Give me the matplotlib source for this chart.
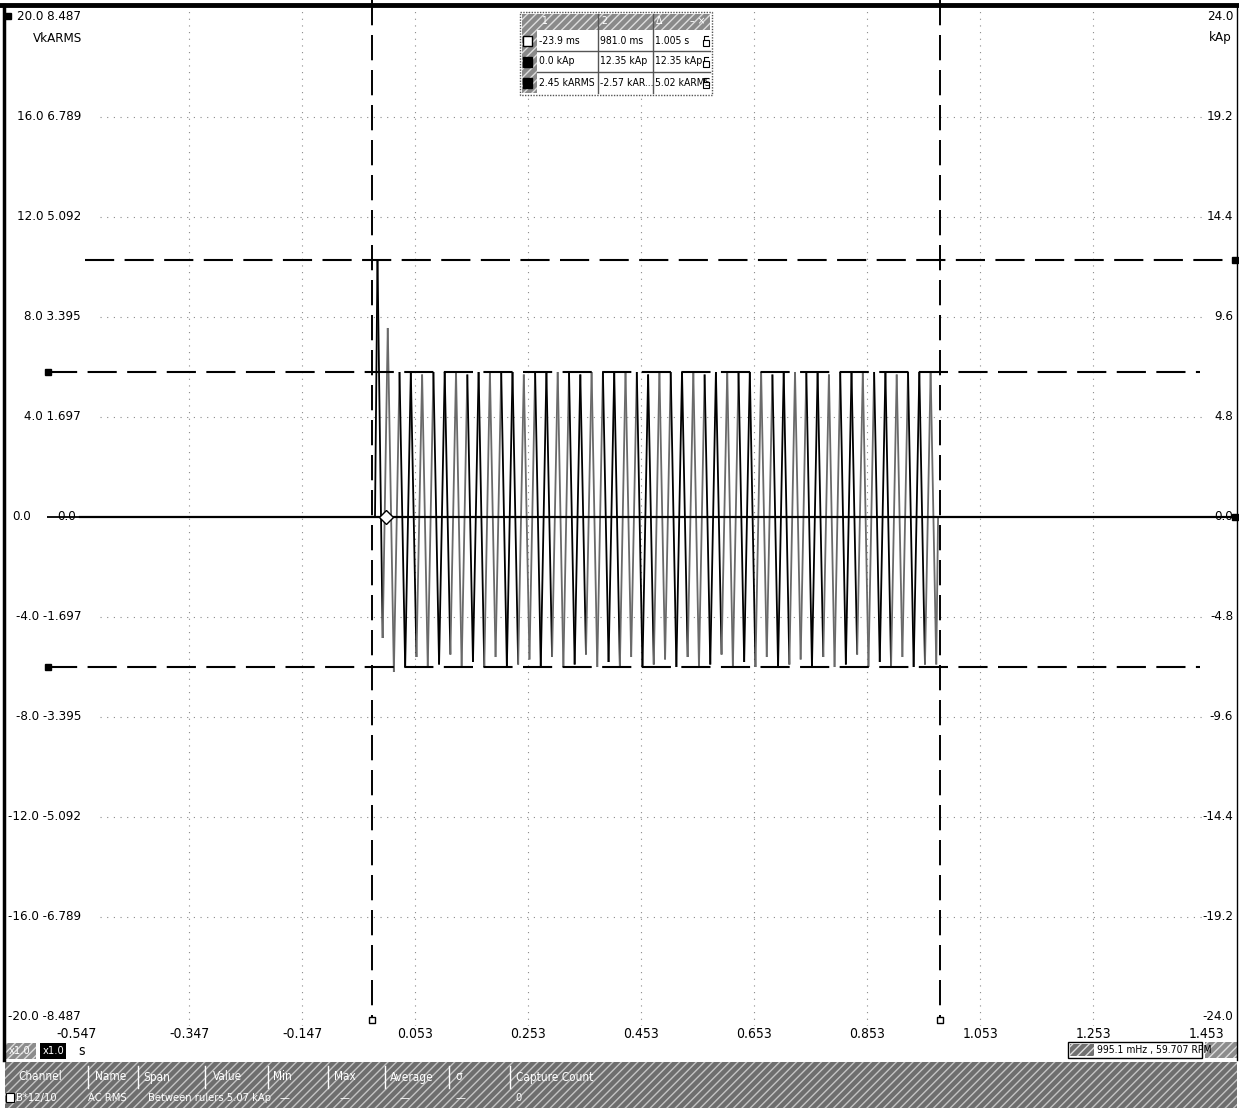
import matplotlib
matplotlib.use("Agg")
import matplotlib.pyplot as plt
import numpy as np
from matplotlib.collections import LineCollection
from matplotlib.patches import Rectangle

# ---------------- data ----------------
x_ticks = [-0.547, -0.347, -0.147, 0.053, 0.253, 0.453, 0.653, 0.853, 1.053, 1.253, 1.453]
x_labels = ["-0.547", "-0.347", "-0.147", "0.053", "0.253", "0.453", "0.653", "0.853", "1.053", "1.253", "1.453"]
left_v = [20.0, 16.0, 12.0, 8.0, 4.0, 0.0, -4.0, -8.0, -12.0, -16.0, -20.0]
left_v_labels = ["20.0", "16.0", "12.0", "8.0", "4.0", "0.0", "-4.0", "-8.0", "-12.0", "-16.0", "-20.0"]
left_a_labels = ["8.487", "6.789", "5.092", "3.395", "1.697", "0.0", "-1.697", "-3.395", "-5.092", "-6.789", "-8.487"]
right_labels = ["24.0", "19.2", "14.4", "9.6", "4.8", "0.0", "-4.8", "-9.6", "-14.4", "-19.2", "-24.0"]

# trace: flat, inrush transient, then steady 50 Hz oscillation (peaks)
pre_t = [-0.60, -0.0186]
pre_v = [0.0, 0.0]
transient_t = [-0.0142, -0.0050, 0.0040, 0.0148]
transient_v = [10.29, -4.84, 7.56, -6.2]
signal_freq = 50.0
first_pos_t = 0.0248
pos_peaks = [5.8, 5.8, 5.7, 5.8, 5.8, 5.8, 5.7, 5.8, 5.8, 5.8, 5.8, 5.7,
             5.8, 5.8, 5.8, 5.8, 5.7, 5.8, 5.8, 5.8, 5.8, 5.8, 5.7, 5.8,
             5.8, 5.8, 5.8, 5.7, 5.8, 5.8, 5.8, 5.8, 5.8, 5.7, 5.8, 5.8,
             5.8, 5.8, 5.7, 5.8, 5.8, 5.8, 5.8, 5.8, 5.7, 5.8, 5.8, 5.8]
neg_peaks = [-6.0, -5.6, -6.0, -5.9, -5.5, -6.0, -5.8, -6.0, -5.6, -6.0, -5.9, -5.7,
             -6.0, -5.6, -6.0, -5.9, -5.5, -6.0, -5.8, -6.0, -5.6, -6.0, -5.9, -5.7,
             -6.0, -5.6, -6.0, -5.9, -5.5, -6.0, -5.8, -6.0, -5.6, -6.0, -5.9, -5.7,
             -6.0, -5.6, -6.0, -5.9, -5.5, -6.0, -5.8, -6.0, -5.6, -6.0, -5.9, -5.9]
post_t = [0.978, 1.52]
post_v = [0.0, 0.0]

rulers_h = [10.29, 5.8, -6.0]
cursor_t = [-0.0239, 0.981]

# --------------- build trace ---------------
period = 1.0 / signal_freq
tt = list(pre_t) + list(transient_t)
vv = list(pre_v) + list(transient_v)
for k, (p, n) in enumerate(zip(pos_peaks, neg_peaks)):
    tt += [first_pos_t + k * period, first_pos_t + k * period + period / 2]
    vv += [p, n]
tt += post_t
vv += post_v
tt = np.array(tt)
vv = np.array(vv)

# --------------- figure ---------------
W, H = 1239, 1110
fig = plt.figure(figsize=(W / 100, H / 100), dpi=100)
fig.patch.set_facecolor("white")

def px2t(px):
    return -0.0239 + (px - 372) / 565.0

def py2v(py):
    return (517 - py) / 25.0

L, R, T, B = 5, 1237, 8, 1026
ax = fig.add_axes([L / W, 1 - B / H, (R - L) / W, (B - T) / H])
ax.set_xlim(px2t(L), px2t(R))
ax.set_ylim(py2v(B), py2v(T))
for s in ax.spines.values():
    s.set_visible(False)
ax.set_yticks([])

font = ["DejaVu Sans"]
TK = dict(family=font, fontstretch="condensed")
ax.set_xticks(x_ticks)
ax.set_xticklabels(x_labels, fontsize=10, **TK)
ax.tick_params(axis="x", length=0, pad=1)

# dotted grid
grid_kw = dict(color="#8a8a8a", lw=0.8, ls=(0, (1, 5)), zorder=1)
for xt in x_ticks[1:-1]:
    ax.axvline(xt, **grid_kw)
for yv in left_v[1:-1]:
    if yv != 0:
        ax.plot([px2t(100), px2t(1205)], [yv, yv], **grid_kw)

# trace
pts = np.column_stack([tt, vv])
segs = np.stack([pts[:-1], pts[1:]], axis=1)
cols = ["black" if (i // 3) % 2 == 0 else "#6a6a6a" for i in range(len(segs))]
ax.add_collection(LineCollection(segs, colors=cols, linewidths=1.3, zorder=3))

# zero line
ax.plot([px2t(80), px2t(1237)], [0, 0], color="black", lw=1.6, zorder=4)

# rulers
dash = (0, (14, 5))
ax.plot([px2t(85), px2t(1232)], [rulers_h[0]] * 2, color="black", lw=1.5, ls=dash, zorder=5)
ax.plot([px2t(48), px2t(1200)], [rulers_h[1]] * 2, color="black", lw=1.5, ls=dash, zorder=5)
ax.plot([px2t(48), px2t(1200)], [rulers_h[2]] * 2, color="black", lw=1.5, ls=dash, zorder=5)
ax.plot([px2t(48)] * 2, [rulers_h[1], rulers_h[2]], ls="none", marker="s", ms=5, color="black", zorder=6, clip_on=False)
ax.plot([px2t(1235)] * 2, [rulers_h[0], 0.0], ls="none", marker="s", ms=5, color="black", zorder=6, clip_on=False)

# cursors
for ct in cursor_t:
    ax.plot([ct, ct], [py2v(0), py2v(1020)], color="black", lw=1.4, ls=(0, (13, 5)), zorder=5, clip_on=False)
    ax.plot([ct], [py2v(1020)], marker="s", ms=5, mfc="white", mec="black", mew=1.0, zorder=6, clip_on=False)

# trigger diamond
ax.plot([0.0], [0.0], marker="D", ms=7, mfc="white", mec="black", mew=1.0, zorder=7)

# left / right labels
for i, v in enumerate(left_v):
    if v == 0.0:
        ax.text(px2t(12), v, left_v_labels[i], ha="left", va="center", fontsize=9.5, zorder=8, **TK)
        ax.text(px2t(76), v, left_a_labels[i], ha="right", va="center", fontsize=9.5, zorder=8, **TK)
    else:
        ax.text(px2t(81), v, left_v_labels[i] + " " + left_a_labels[i], ha="right", va="center",
                fontsize=9.5, zorder=8, **TK)
    ax.text(px2t(1233), v, right_labels[i], ha="right", va="center", fontsize=9.5, zorder=8, **TK)
ax.text(px2t(33), py2v(38), "VkARMS", ha="left", va="center", fontsize=9.5, **TK)
ax.text(px2t(1209), py2v(38), "kAp", ha="left", va="center", fontsize=9.5, **TK)
ax.plot([px2t(8)], [py2v(16)], marker="s", ms=5, color="black", clip_on=False)

# --------------- overlay in pixel coords ---------------
ov = fig.add_axes([0, 0, 1, 1], zorder=10)
ov.set_xlim(0, W)
ov.set_ylim(H, 0)
ov.axis("off")

# frame
ov.plot([0, W], [5, 5], color="black", lw=3.5)
ov.plot([4, 4], [5, 1060], color="black", lw=2.5)
ov.plot([1237, 1237], [5, 1060], color="black", lw=1.0)

# top cursor table
tx0, tx1, ty0, ty1 = 520, 712, 12, 95
ov.add_patch(Rectangle((tx0, ty0), tx1 - tx0, ty1 - ty0, facecolor="white", edgecolor="#555555", lw=1.0, ls=(0, (1, 1))))
ov.add_patch(Rectangle((tx0 + 2, ty0 + 2), tx1 - tx0 - 4, 16, facecolor="#8a8a8a", edgecolor="#dddddd", hatch="////", lw=0))
ov.add_patch(Rectangle((tx0 + 2, ty0 + 18), 15, ty1 - ty0 - 20, facecolor="#8a8a8a", edgecolor="#dddddd", hatch="////", lw=0))
colx = [537, 598, 653, 712]
rowy = [30, 51, 72, 93]
for cx in colx[1:-1]:
    ov.plot([cx, cx], [14, 93], color="#555555", lw=1.0)
for ry in rowy[1:-1]:
    ov.plot([537, 710], [ry, ry], color="#555555", lw=1.0)
tfont = dict(fontsize=7.5, va="center", **TK)
ov.text(541, 21, "1", color="white", **tfont)
ov.text(601, 21, "2", color="white", **tfont)
ov.text(656, 21, "Δ", color="white", **tfont)
ov.text(690, 21, "– ×", color="white", **tfont)
table_rows = [["-23.9 ms", "981.0 ms", "1.005 s"],
              ["0.0 kAp", "12.35 kAp", "12.35 kAp"],
              ["2.45 kARMS", "-2.57 kAR...", "5.02 kARMS"]]
for r, row in enumerate(table_rows):
    yc = (rowy[r] + rowy[r + 1]) / 2
    ov.add_patch(Rectangle((523, yc - 5), 9, 10, facecolor="white" if r == 0 else "black", edgecolor="black", lw=1))
    for c, txt in enumerate(row):
        ov.text(colx[c] + 2, yc, txt, color="black", **tfont)
    # lock icon
    ov.add_patch(Rectangle((703, yc - 1), 6, 6, facecolor="white", edgecolor="black", lw=0.8))
    ov.plot([704, 704, 708], [yc - 1, yc - 5, yc - 5], color="black", lw=0.8)

# below-axis widgets
ov.add_patch(Rectangle((6, 1043), 30, 16, facecolor="#8c8c8c", edgecolor="#dddddd", hatch="////", lw=0))
ov.text(9, 1051, "x1.0", color="white", fontsize=8, va="center", **TK)
ov.add_patch(Rectangle((40, 1043), 26, 16, facecolor="black", lw=0))
ov.text(43, 1051, "x1.0", color="white", fontsize=8, va="center", **TK)
ov.text(78, 1051, "s", color="black", fontsize=10, va="center", **TK)
ov.add_patch(Rectangle((1068, 1042), 134, 16, facecolor="white", edgecolor="black", lw=1))
ov.add_patch(Rectangle((1070, 1044), 24, 12, facecolor="#707070", edgecolor="#dddddd", hatch="////", lw=0))
ov.text(1097, 1050, "995.1 mHz , 59.707 RPM", color="black", fontsize=7.5, va="center", **TK)
ov.add_patch(Rectangle((1205, 1042), 32, 16, facecolor="#8c8c8c", edgecolor="#dddddd", hatch="////", lw=0))

# bottom measurement bar
ov.add_patch(Rectangle((5, 1062), 1232, 46, facecolor="#6e6e6e", edgecolor="#c4c4c4", hatch="////", lw=0))
heads = [("Channel", 18), ("Name", 95), ("Span", 143), ("Value", 213), ("Min", 273), ("Max", 334),
         ("Average", 390), ("σ", 455), ("Capture Count", 516)]
for txt, x in heads:
    ov.text(x, 1077, txt, color="white", fontsize=8.5, va="center", **TK)
for x in [88, 138, 205, 268, 328, 385, 449, 510]:
    ov.plot([x, x], [1066, 1088], color="white", lw=1.0)
vals = [("B*12/10", 16), ("AC RMS", 88), ("Between rulers 5.07 kAp", 148), ("—", 280), ("—", 340),
        ("—", 400), ("—", 456), ("0", 515)]
ov.add_patch(Rectangle((6, 1093), 8, 9, facecolor="white", edgecolor="black", lw=0.8))
for txt, x in vals:
    ov.text(x, 1098, txt, color="white", fontsize=8, va="center", **TK)

fig.savefig("out.png", dpi=100)
